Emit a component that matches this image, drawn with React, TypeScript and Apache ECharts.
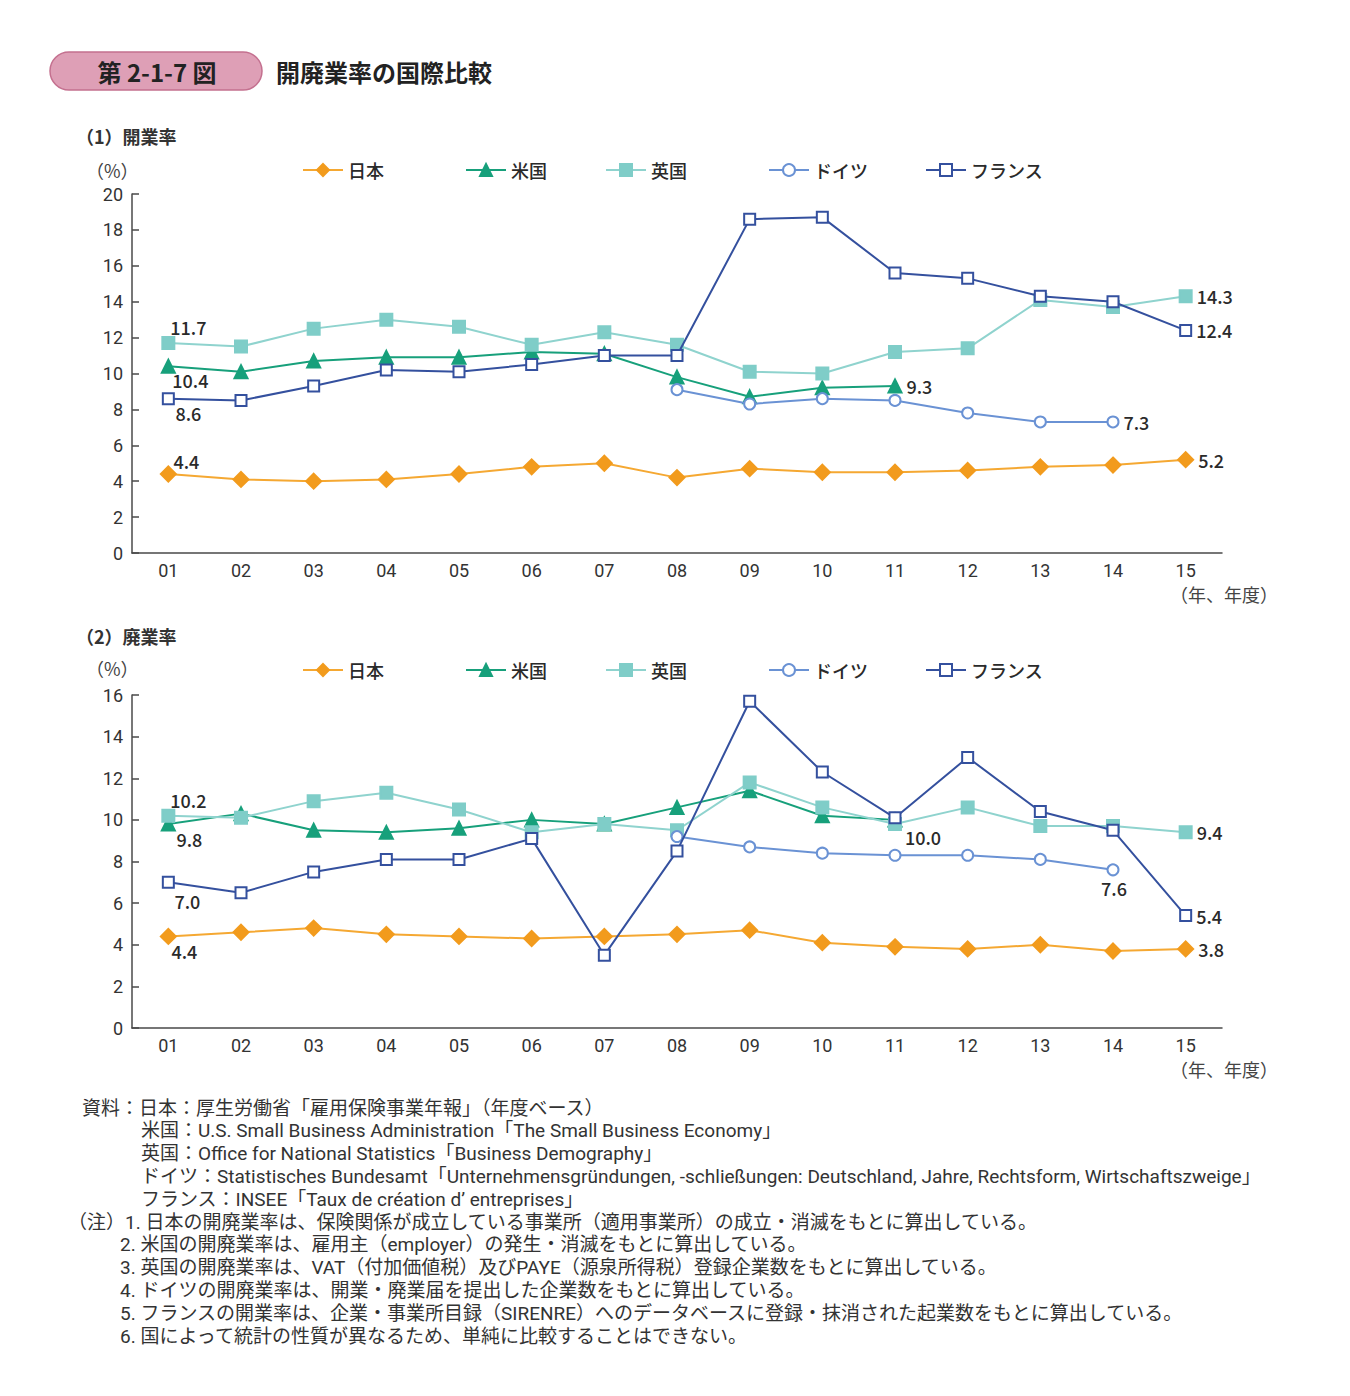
import { useEffect, useRef } from 'react';
import * as echarts from 'echarts';

const years = ['01', '02', '03', '04', '05', '06', '07', '08', '09', '10', '11', '12', '13', '14', '15'];
const countries = ['日本', '米国', '英国', 'ドイツ', 'フランス'];

// (1) 開業率
const openJapan = [4.4, 4.1, 4.0, 4.1, 4.4, 4.8, 5.0, 4.2, 4.7, 4.5, 4.5, 4.6, 4.8, 4.9, 5.2];
const openUS = [10.4, 10.1, 10.7, 10.9, 10.9, 11.2, 11.1, 9.8, 8.7, 9.2, 9.3, null, null, null, null];
const openUK = [11.7, 11.5, 12.5, 13.0, 12.6, 11.6, 12.3, 11.6, 10.1, 10.0, 11.2, 11.4, 14.1, 13.7, 14.3];
const openGermany = [null, null, null, null, null, null, null, 9.1, 8.3, 8.6, 8.5, 7.8, 7.3, 7.3, null];
const openFrance = [8.6, 8.5, 9.3, 10.2, 10.1, 10.5, 11.0, 11.0, 18.6, 18.7, 15.6, 15.3, 14.3, 14.0, 12.4];

// (2) 廃業率
const closeJapan = [4.4, 4.6, 4.8, 4.5, 4.4, 4.3, 4.4, 4.5, 4.7, 4.1, 3.9, 3.8, 4.0, 3.7, 3.8];
const closeUS = [9.8, 10.3, 9.5, 9.4, 9.6, 10.0, 9.8, 10.6, 11.4, 10.2, 10.0, null, null, null, null];
const closeUK = [10.2, 10.1, 10.9, 11.3, 10.5, 9.4, 9.8, 9.5, 11.8, 10.6, 9.8, 10.6, 9.7, 9.7, 9.4];
const closeGermany = [null, null, null, null, null, null, null, 9.2, 8.7, 8.4, 8.3, 8.3, 8.1, 7.6, null];
const closeFrance = [7.0, 6.5, 7.5, 8.1, 8.1, 9.1, 3.5, 8.5, 15.7, 12.3, 10.1, 13.0, 10.4, 9.5, 5.4];

const openMax = 20;
const closeMax = 16;

const sources = [
  '資料：日本：厚生労働省「雇用保険事業年報」（年度ベース）',
  '米国：U.S. Small Business Administration「The Small Business Economy」',
  '英国：Office for National Statistics「Business Demography」',
  'ドイツ：Statistisches Bundesamt「Unternehmensgründungen, -schließungen: Deutschland, Jahre, Rechtsform, Wirtschaftszweige」',
  'フランス：INSEE「Taux de création d’ entreprises」',
];
const notes = [
  '（注）1. 日本の開廃業率は、保険関係が成立している事業所（適用事業所）の成立・消滅をもとに算出している。',
  '2. 米国の開廃業率は、雇用主（employer）の発生・消滅をもとに算出している。',
  '3. 英国の開廃業率は、VAT（付加価値税）及びPAYE（源泉所得税）登録企業数をもとに算出している。',
  '4. ドイツの開廃業率は、開業・廃業届を提出した企業数をもとに算出している。',
  '5. フランスの開業率は、企業・事業所目録（SIRENRE）へのデータベースに登録・抹消された起業数をもとに算出している。',
  '6. 国によって統計の性質が異なるため、単純に比較することはできない。',
];

const FONT = "'Noto Sans CJK JP', 'Noto Sans', sans-serif";
// 行間が詰まっている所は、枠の低い欧文フォントを先頭に
const TIGHT_FONT = "Roboto, 'Noto Sans CJK JP', sans-serif";
const TEXT = '#2a2a2a';

const styles = [
  { color: '#F29B1D', line: '#F5A832', symbol: 'diamond', size: 15 },
  { color: '#17A07B', line: '#17A07B', symbol: 'triangle', size: 13 },
  { color: '#7FCDC8', line: '#8FD3CE', symbol: 'rect', size: 12 },
  { color: '#6A92D4', line: '#6A92D4', symbol: 'emptyCircle', size: 11 },
  { color: '#34509E', line: '#34509E', symbol: 'emptyRect', size: 11 },
];

type LabelSpec = Record<number, any>;

const R = { position: 'right', distance: 4 };
const at = (x: number, y: number) => ({ position: 'inside', offset: [x, y] });

// 表示するデータラベル（国ごと、年インデックス → 位置）
const openLabels: LabelSpec[] = [
  { 0: at(18, -13), 14: R },
  { 0: at(22, 14), 10: R },
  { 0: at(20, -16), 14: R },
  { 13: R },
  { 0: at(20, 14), 14: R },
];
const closeLabels: LabelSpec[] = [
  { 0: at(16, 15), 14: R },
  { 0: at(21, 15), 10: at(28, 17) },
  { 0: at(20, -16), 14: R },
  { 13: at(1, 18) },
  { 0: at(19, 19), 14: R },
];

function withLabels(vals: (number | null)[], spec: LabelSpec) {
  return vals.map((v, i) =>
    spec[i] && v != null
      ? {
          value: v,
          label: {
            show: true,
            ...spec[i],
            formatter: (p: any) => Number(p.value).toFixed(1),
            fontSize: 18,
            fontWeight: 500,
            fontFamily: FONT,
            color: TEXT,
          },
        }
      : v
  );
}

function makeSeries(sets: (number | null)[][], labels: LabelSpec[], idx: number) {
  return sets.map((vals, i) => ({
    name: countries[i],
    type: 'line',
    xAxisIndex: idx,
    yAxisIndex: idx,
    data: withLabels(vals, labels[i]),
    symbol: styles[i].symbol,
    symbolSize: styles[i].size,
    showAllSymbol: true,
    z: i === 4 ? 6 : 3 + i * 0.1,
    lineStyle: { color: styles[i].line, width: 2 },
    itemStyle: { color: styles[i].color, borderColor: styles[i].color, borderWidth: 2 },
    emphasis: { disabled: true },
  }));
}

const legendLefts = [302, 465, 605, 768, 925];

function makeLegends(top: number) {
  return countries.map((name, i) => ({
    data: [name],
    left: legendLefts[i],
    top,
    padding: 0,
    itemWidth: 40,
    itemHeight: 15,
    itemGap: 0,
    selectedMode: false,
    textStyle: { fontSize: 18, fontFamily: FONT, color: TEXT, fontWeight: 500 },
  }));
}

function axisPair(gridIndex: number, max: number) {
  return {
    x: {
      type: 'category',
      gridIndex,
      data: years,
      boundaryGap: true,
      axisLine: { lineStyle: { color: '#4a4a4a', width: 1.5 } },
      axisTick: { inside: true, length: 7, lineStyle: { color: '#4a4a4a', width: 1.5 } },
      axisLabel: { fontSize: 18, fontFamily: TIGHT_FONT, color: '#333', margin: 8 },
      splitLine: { show: false },
    },
    y: {
      type: 'value',
      gridIndex,
      min: 0,
      max,
      interval: 2,
      axisLine: { show: true, lineStyle: { color: '#4a4a4a', width: 1.5 } },
      axisTick: { show: true, inside: true, length: 7, lineStyle: { color: '#4a4a4a', width: 1.5 } },
      axisLabel: { fontSize: 18, fontFamily: TIGHT_FONT, color: '#333', margin: 9 },
      splitLine: { show: false },
    },
  };
}

function txt(x: number, y: number, text: string, size = 18, weight: any = 'normal', align = 'left', color = '#333', font = FONT) {
  return {
    type: 'text',
    x,
    y,
    style: { text, fontSize: size, fontWeight: weight, fontFamily: font, fill: color, align, verticalAlign: 'middle' },
  };
}

export default function App() {
  const ref = useRef<HTMLDivElement>(null);

  useEffect(() => {
    if (!ref.current) return;
    const chart = echarts.init(ref.current, null, { renderer: 'svg' });

    const a1 = axisPair(0, openMax);
    const a2 = axisPair(1, closeMax);

    const graphic: any[] = [
      {
        type: 'rect',
        shape: { x: 50, y: 52, width: 212, height: 38, r: 19 },
        style: { fill: '#DE9FB6', stroke: '#C4708F', lineWidth: 1.5 },
      },
      txt(157, 71, '第 2-1-7 図', 24, 'bold', 'center', '#222'),
      txt(276, 71, '開廃業率の国際比較', 24, 'bold', 'left', '#222'),
      txt(76, 136, '（1）開業率', 18, 'bold', 'left', '#333'),
      txt(86, 170, '（%）', 18, 'normal', 'left', '#444'),
      txt(1278, 595, '（年、年度）', 18, 'normal', 'right', '#444', TIGHT_FONT),
      txt(76, 636, '（2）廃業率', 18, 'bold', 'left', '#333'),
      txt(86, 668, '（%）', 18, 'normal', 'left', '#444'),
      txt(1278, 1070, '（年、年度）', 18, 'normal', 'right', '#444', TIGHT_FONT),
    ];
    sources.forEach((s, i) =>
      graphic.push(txt(i === 0 ? 82 : 141, 1108 + i * 22.9, s, 19, 'normal', 'left', '#333', TIGHT_FONT))
    );
    notes.forEach((s, i) =>
      graphic.push(txt(i === 0 ? 68 : 120, 1222 + i * 22.9, s, 19, 'normal', 'left', '#333', TIGHT_FONT))
    );

    chart.setOption({
      animation: false,
      backgroundColor: '#fff',
      textStyle: { fontFamily: FONT },
      legend: [...makeLegends(161), ...makeLegends(661)],
      grid: [
        { left: 132, top: 194, width: 1090, height: 359 },
        { left: 132, top: 695, width: 1090, height: 333 },
      ],
      xAxis: [a1.x, a2.x],
      yAxis: [a1.y, a2.y],
      series: [
        ...makeSeries([openJapan, openUS, openUK, openGermany, openFrance], openLabels, 0),
        ...makeSeries([closeJapan, closeUS, closeUK, closeGermany, closeFrance], closeLabels, 1),
      ],
      graphic,
    } as any);

    return () => {
      chart.dispose();
    };
  }, []);

  return (
    <div
      ref={ref}
      style={{ position: 'absolute', left: 0, top: 0, width: 1350, height: 1396, background: '#fff' }}
    />
  );
}
